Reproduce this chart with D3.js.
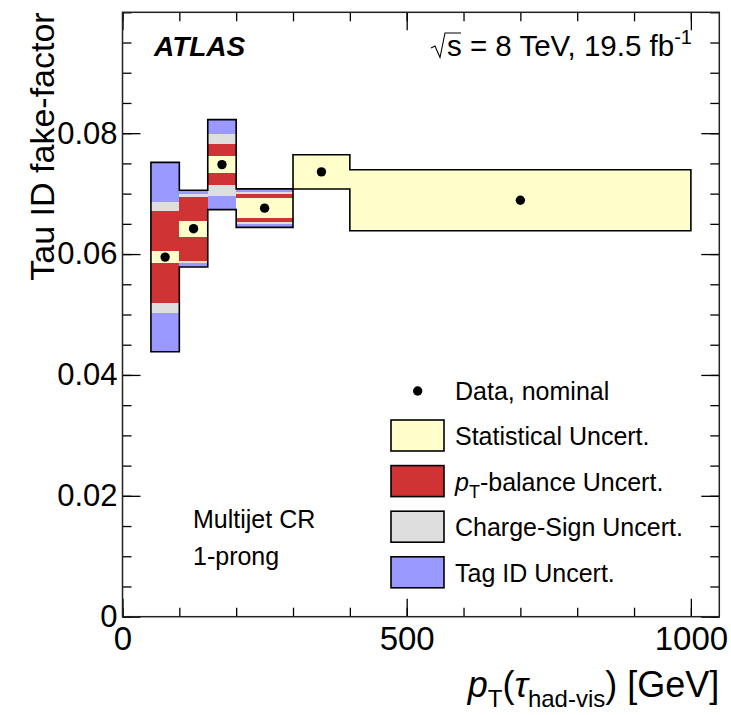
<!DOCTYPE html>
<html>
<head>
<meta charset="utf-8">
<script src="https://cdn.jsdelivr.net/npm/d3@7"></script>
<style>
  html, body { margin: 0; padding: 0; background: #fff; }
  svg { display: block; }
  text { font-family: "Liberation Sans", Arial, Helvetica, sans-serif; fill: #000; }
</style>
</head>
<body>
<svg id="chart" width="731" height="715"></svg>
<script>
// Bin edges in pT (GeV)
const binEdges = [50, 100, 150, 200, 300, 400, 1000];
// Nominal fake-factor per bin
const nominal = [0.0595, 0.0642, 0.0748, 0.0676, 0.0736, 0.0689];
// Cumulative half-widths of the uncertainty bands (innermost to outermost)
const statBand       = [0.00100, 0.00130, 0.00135, 0.00170, 0.00284, 0.00505];
const ptBalanceBand  = [0.00758, 0.00530, 0.00345, 0.00227, 0.00284, 0.00505];
const chargeSignBand = [0.00918, 0.00566, 0.00513, 0.00260, 0.00284, 0.00505];
const tagIdBand      = [0.01567, 0.00635, 0.00745, 0.00319, 0.00284, 0.00505];

const xTicksMajor = [0, 500, 1000];
const yTicksMajor = [0, 0.02, 0.04, 0.06, 0.08];

const legendEntries = [
  { key: "stat",   label: "Statistical Uncert.",  color: "#ffffcc" },
  { key: "pt",     label: "-balance Uncert.",      color: "#cf3333" },
  { key: "charge", label: "Charge-Sign Uncert.",  color: "#dedede" },
  { key: "tag",    label: "Tag ID Uncert.",       color: "#9999ff" }
];

const svg = d3.select("#chart");
const frame = { left: 122.5, right: 719.3, top: 12.3, bottom: 616.7 };

const x = d3.scaleLinear().domain([0, 1050]).range([frame.left, frame.right]);
const y = d3.scaleLinear().domain([0, 0.1]).range([frame.bottom, frame.top]);

const bins = nominal.map((v, i) => ({
  lo: binEdges[i], hi: binEdges[i + 1], v,
  stat: statBand[i], pt: ptBalanceBand[i], charge: chargeSignBand[i], tag: tagIdBand[i]
}));

// Bands, outermost first so inner bands sit on top
const layers = [
  { key: "tag",    color: "#9999ff" },
  { key: "charge", color: "#dedede" },
  { key: "pt",     color: "#cf3333" },
  { key: "stat",   color: "#ffffcc" }
];
const plot = svg.append("g");
layers.forEach(layer => {
  plot.append("g").selectAll("rect").data(bins).join("rect")
    .attr("x", d => x(d.lo))
    .attr("width", d => x(d.hi) - x(d.lo))
    .attr("y", d => y(d.v + d[layer.key]))
    .attr("height", d => y(d.v - d[layer.key]) - y(d.v + d[layer.key]))
    .attr("fill", layer.color)
    .attr("shape-rendering", "crispEdges");
});

// Outline of the total envelope
const upper = [], lower = [];
bins.forEach(d => {
  upper.push([x(d.lo), y(d.v + d.tag)], [x(d.hi), y(d.v + d.tag)]);
  lower.push([x(d.lo), y(d.v - d.tag)], [x(d.hi), y(d.v - d.tag)]);
});
plot.append("path")
  .attr("d", d3.line()(upper.concat(lower.reverse())) + "Z")
  .attr("fill", "none").attr("stroke", "#000").attr("stroke-width", 1.6);

// Data points
plot.append("g").selectAll("circle").data(bins).join("circle")
  .attr("cx", d => x((d.lo + d.hi) / 2))
  .attr("cy", d => y(d.v))
  .attr("r", 4.7)
  .attr("fill", "#000");

// Axes: inward ticks on all four sides
const tickMajor = 18, tickMinor = 9;
const xMinor = d3.range(0, 1001, 100);
const yMinor = d3.range(0, 0.1001, 0.005);

function styleAxis(g) {
  g.select(".domain").remove();
  g.selectAll(".tick line").attr("stroke", "#000").attr("stroke-width", 1.3);
}

svg.append("g").attr("transform", `translate(0,${frame.bottom})`)
  .call(d3.axisBottom(x).tickValues(xMinor).tickSize(-tickMinor).tickFormat(""))
  .call(styleAxis);
svg.append("g").attr("transform", `translate(0,${frame.bottom})`)
  .call(d3.axisBottom(x).tickValues(xTicksMajor).tickSize(-tickMajor).tickPadding(10).tickFormat(d3.format("d")))
  .call(styleAxis)
  .call(g => g.selectAll("text").attr("font-size", 33).attr("dy", "0.71em")
    .attr("font-family", "Liberation Sans, Arial, sans-serif").attr("fill", "#000"));
svg.append("g").attr("transform", `translate(0,${frame.top})`)
  .call(d3.axisTop(x).tickValues(xMinor).tickSize(-tickMinor).tickFormat(""))
  .call(styleAxis);
svg.append("g").attr("transform", `translate(0,${frame.top})`)
  .call(d3.axisTop(x).tickValues(xTicksMajor).tickSize(-tickMajor).tickFormat(""))
  .call(styleAxis);

svg.append("g").attr("transform", `translate(${frame.left},0)`)
  .call(d3.axisLeft(y).tickValues(yMinor).tickSize(-tickMinor).tickFormat(""))
  .call(styleAxis);
svg.append("g").attr("transform", `translate(${frame.left},0)`)
  .call(d3.axisLeft(y).tickValues(yTicksMajor).tickSize(-tickMajor).tickPadding(5)
    .tickFormat(d => d === 0 ? "0" : d3.format(".2f")(d)))
  .call(styleAxis)
  .call(g => g.selectAll("text").attr("font-size", 31)
    .attr("font-family", "Liberation Sans, Arial, sans-serif").attr("fill", "#000"));
svg.append("g").attr("transform", `translate(${frame.right},0)`)
  .call(d3.axisRight(y).tickValues(yMinor).tickSize(-tickMinor).tickFormat(""))
  .call(styleAxis);
svg.append("g").attr("transform", `translate(${frame.right},0)`)
  .call(d3.axisRight(y).tickValues(yTicksMajor).tickSize(-tickMajor).tickFormat(""))
  .call(styleAxis);

// Frame
svg.append("rect")
  .attr("x", frame.left).attr("y", frame.top)
  .attr("width", frame.right - frame.left).attr("height", frame.bottom - frame.top)
  .attr("fill", "none").attr("stroke", "#222").attr("stroke-width", 1.5);

// Axis titles
svg.append("text")
  .attr("transform", `translate(54,${frame.top}) rotate(-90)`)
  .attr("text-anchor", "end").attr("font-size", 34)
  .text("Tau ID fake-factor");

const xt = svg.append("text")
  .attr("x", frame.right).attr("y", 697)
  .attr("text-anchor", "end").attr("font-size", 36);
xt.append("tspan").attr("font-style", "italic").text("p");
xt.append("tspan").attr("font-size", 24).attr("dy", 10).text("T");
xt.append("tspan").attr("dy", -10).text("(");
xt.append("tspan").attr("font-style", "italic").text("τ");
xt.append("tspan").attr("font-size", 24).attr("dy", 10).text("had-vis");
xt.append("tspan").attr("dy", -10).text(") [GeV]");

// Labels inside the frame
svg.append("text").attr("x", 154).attr("y", 56)
  .attr("font-size", 28).attr("font-weight", "bold").attr("font-style", "italic")
  .text("ATLAS");

svg.append("path")
  .attr("d", "M431,48 L435,46 L440,57.5 L445,33 L461,33")
  .attr("fill", "none").attr("stroke", "#000").attr("stroke-width", 1.1);
const en = svg.append("text").attr("x", 447).attr("y", 56).attr("font-size", 29.5);
en.append("tspan").text("s = 8 TeV, 19.5 fb");
en.append("tspan").attr("font-size", 20).attr("dy", -12).text("-1");

svg.append("text").attr("x", 193).attr("y", 528).attr("font-size", 25).text("Multijet CR");
svg.append("text").attr("x", 193).attr("y", 565).attr("font-size", 25).text("1-prong");

// Legend
const legend = svg.append("g");
legend.append("circle").attr("cx", 417.7).attr("cy", 391).attr("r", 4.7).attr("fill", "#000");
legend.append("text").attr("x", 455).attr("y", 400).attr("font-size", 25).text("Data, nominal");
const rowY = d3.scaleLinear().domain([0, 1]).range([420, 465.6]);
legendEntries.forEach((e, i) => {
  const y0 = rowY(i);
  legend.append("rect").attr("x", 391).attr("y", y0).attr("width", 53).attr("height", 31)
    .attr("fill", e.color).attr("stroke", "#000").attr("stroke-width", 1.6);
  const t = legend.append("text").attr("x", 455).attr("y", y0 + 25).attr("font-size", 25);
  if (e.key === "pt") {
    t.append("tspan").attr("font-style", "italic").text("p");
    t.append("tspan").attr("font-size", 18).attr("dy", 7).text("T");
    t.append("tspan").attr("dy", -7).text(e.label);
  } else {
    t.text(e.label);
  }
});
</script>
</body>
</html>
